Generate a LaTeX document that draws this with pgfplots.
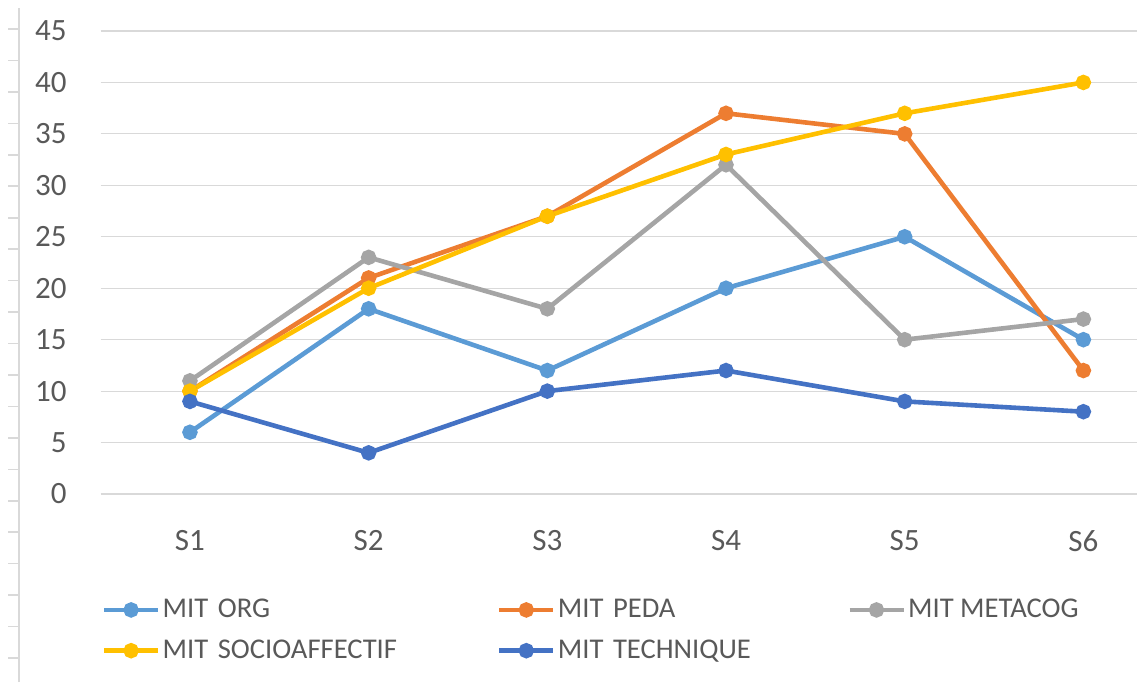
\documentclass[border=0pt]{standalone}
\usepackage{pgfplots}
\pgfplotsset{compat=1.18}
\usepackage{fontspec}
\setmainfont{Carlito}

\definecolor{morg}{HTML}{5B9BD5}
\definecolor{mpeda}{HTML}{ED7D31}
\definecolor{mmeta}{HTML}{A5A5A5}
\definecolor{msocio}{HTML}{FFC000}
\definecolor{mtech}{HTML}{4472C4}
\definecolor{txt}{HTML}{595959}
\definecolor{gridc}{HTML}{D9D9D9}

\begin{document}
\begin{tikzpicture}
    % picture frame: 1137 x 682 px at 0.5pt per px
    \clip (0,0) rectangle (568.5pt,341pt);
    % left ruler strip
    \draw[gridc, line width=0.8pt] (9.5pt,0) -- (9.5pt,337pt);
    \foreach \k in {0,...,20}{
        \pgfmathsetmacro{\yy}{341-0.5*(29+31.45*\k)}
        \draw[gridc, line width=0.8pt] (4pt,\yy pt) -- (9.5pt,\yy pt);
    }

    \begin{axis}[
        at={(50.3pt,94pt)}, anchor=south west,
        scale only axis,
        width=518.2pt, height=231.5pt,
        xmin=0.5, xmax=6.3,
        ymin=0, ymax=45,
        xtick={1,2,3,4,5,6},
        xticklabels={S1,S2,S3,S4,S5,S6},
        ytick={0,5,...,45},
        ymajorgrids,
        grid style={gridc, line width=0.6pt},
        axis line style={draw=none},
        major tick length=0pt,
        /pgf/number format/assume math mode=true,
        tick label style={font=\fontsize{15.5}{18}\selectfont, text=txt, inner sep=0pt},
        yticklabel style={anchor=east, xshift=-16.8pt},
        xticklabel style={anchor=north, yshift=-18pt},
        every axis plot/.append style={line width=2.3pt, mark=*, mark size=2.7pt},
        legend columns=3,
        legend cell align=left,
        legend style={
            at={(0.003,-0.212)}, anchor=north west,
            draw=none, fill=none, inner sep=0pt,
            font=\fontsize{14.3}{17}\selectfont, text=txt,
            nodes={inner sep=3.3pt},
            row sep=3pt,
            /tikz/column 2/.style={text width=165pt, align=left},
            /tikz/column 4/.style={text width=142.5pt, align=left},
        },
        legend image code/.code={
            \draw[mark repeat=2, mark phase=2, overlay] plot coordinates {(0pt,0pt) (13.5pt,0pt) (27pt,0pt)};
            \path[draw=none, fill=none] (0pt,-3pt) rectangle (26pt,3pt);
        },
    ]
    % S1..S6
    \addplot[color=morg] coordinates {(1,6) (2,18) (3,12) (4,20) (5,25) (6,15)};
    \addlegendentry{MIT ORG}
    \addplot[color=mpeda] coordinates {(1,10) (2,21) (3,27) (4,37) (5,35) (6,12)};
    \addlegendentry{MIT PEDA}
    \addplot[color=mmeta] coordinates {(1,11) (2,23) (3,18) (4,32) (5,15) (6,17)};
    \addlegendentry{MIT METACOG}
    \addplot[color=msocio] coordinates {(1,10) (2,20) (3,27) (4,33) (5,37) (6,40)};
    \addlegendentry{MIT SOCIOAFFECTIF}
    \addplot[color=mtech] coordinates {(1,9) (2,4) (3,10) (4,12) (5,9) (6,8)};
    \addlegendentry{MIT TECHNIQUE}
    \end{axis}
\end{tikzpicture}
\end{document}
